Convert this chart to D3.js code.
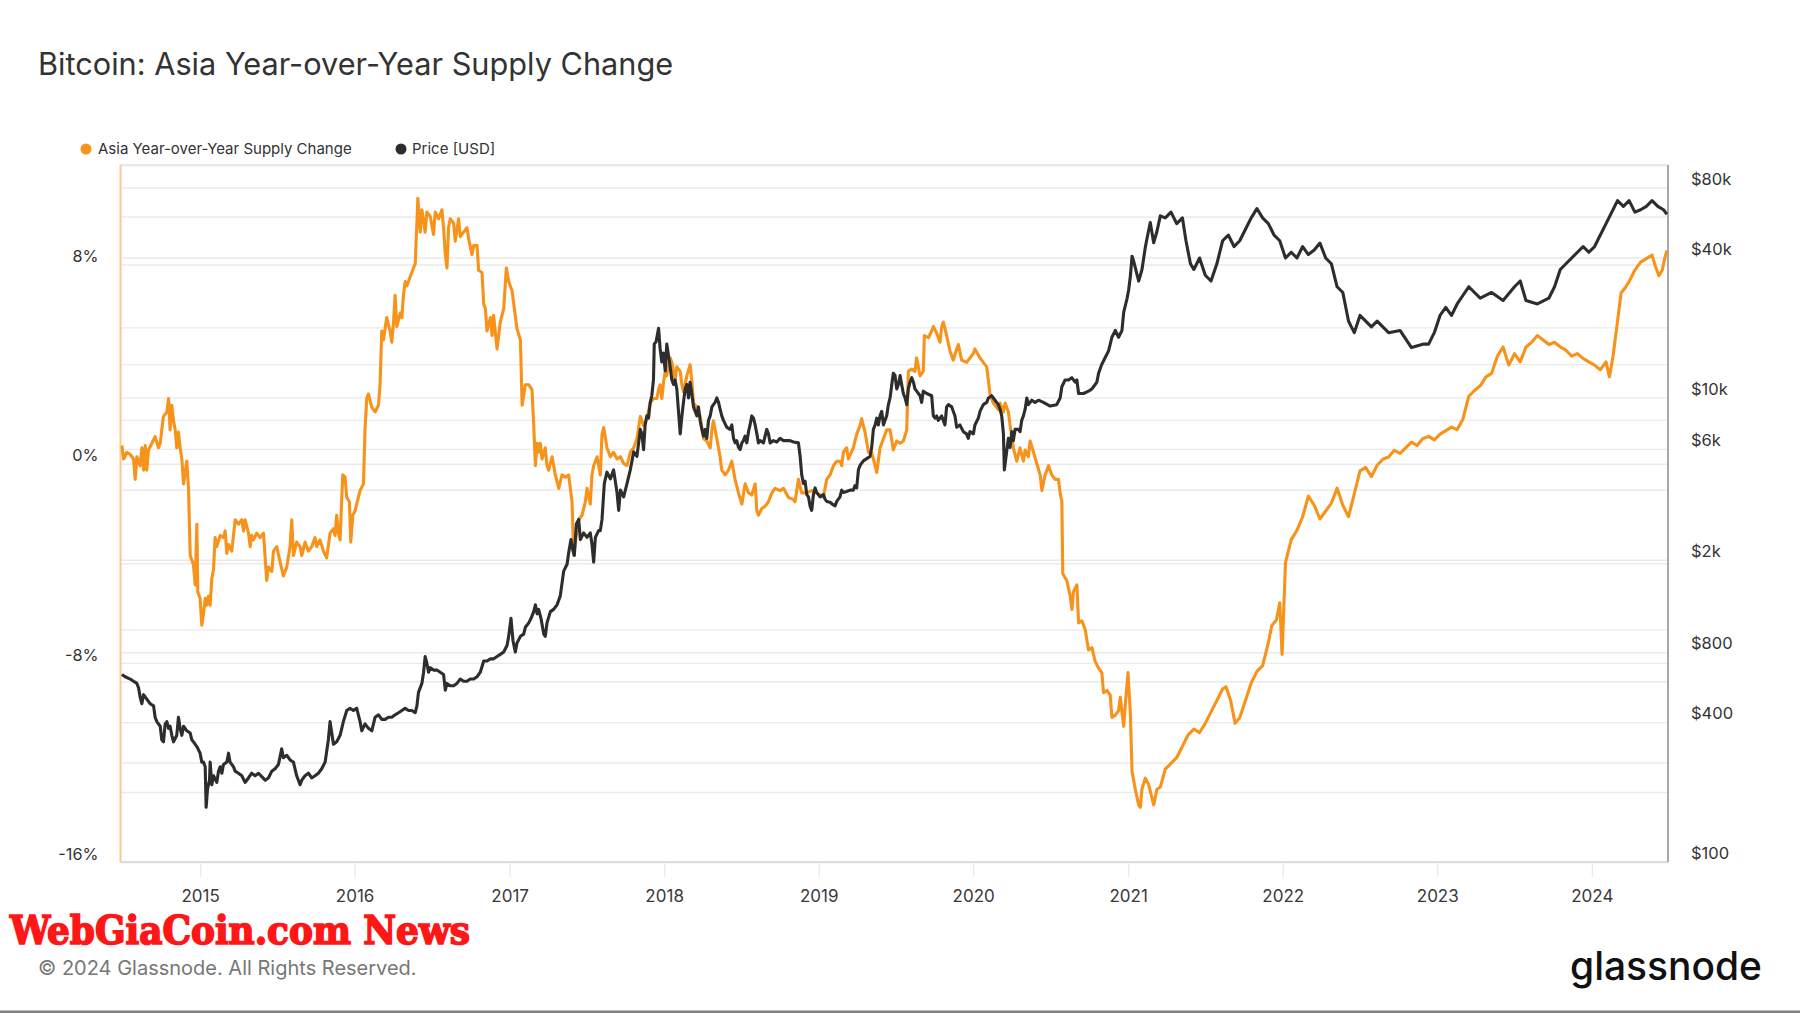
<!DOCTYPE html>
<html>
<head>
<meta charset="utf-8">
<script src="https://cdn.jsdelivr.net/npm/d3@7"></script>
<style>
html,body{margin:0;padding:0;background:#fff;}
svg{display:block;font-family:Inter,"Noto Sans",sans-serif;}
</style>
</head>
<body>
<svg id="chart" width="1800" height="1013"></svg>
<script>
// ---------- DATA (time as decimal year) ----------
const yearTicks = [2015, 2016, 2017, 2018, 2019, 2020, 2021, 2022, 2023, 2024];
const pctTicks = [-16, -8, 0, 8];
const pctGrid = [-16, -12, -8, -4, 0, 4, 8, 12];
const priceTicks = [100, 400, 800, 2000, 6000, 10000, 40000, 80000];
const priceTickLabels = ["$100", "$400", "$800", "$2k", "$6k", "$10k", "$40k", "$80k"];
const priceGrid = [100, 200, 400, 600, 800, 1000, 2000, 4000, 6000, 8000, 10000, 20000, 40000, 60000, 80000];
const seriesNames = ["Asia Year-over-Year Supply Change", "Price [USD]"];

// Asia Year-over-Year Supply Change [%]
const supplyChangePct = [
[2014.494,0.73],[2014.505,0.19],[2014.526,0.46],[2014.548,0.37],[2014.569,0.19],[2014.580,-0.63],[2014.591,0.28],[2014.612,-0.08],[2014.623,0.64],[2014.634,-0.26],[2014.645,0.73],[2014.655,-0.26],[2014.666,0.55],[2014.688,0.82],[2014.709,1.09],[2014.731,0.64],[2014.742,0.82],[2014.752,1.36],[2014.763,1.90],[2014.785,2.08],[2014.796,2.62],[2014.806,1.36],[2014.817,2.35],[2014.828,1.72],[2014.839,1.36],[2014.849,0.64],[2014.860,1.27],[2014.871,0.64],[2014.882,0.19],[2014.893,-0.81],[2014.914,0.10],[2014.925,-0.99],[2014.936,-3.69],[2014.946,-3.87],[2014.957,-4.06],[2014.968,-4.87],[2014.979,-2.43],[2014.985,-5.14],[2015.000,-5.41],[2015.011,-6.49],[2015.022,-6.04],[2015.033,-5.41],[2015.043,-5.68],[2015.054,-5.32],[2015.065,-5.68],[2015.076,-4.60],[2015.087,-4.24],[2015.097,-2.97],[2015.108,-3.33],[2015.130,-2.88],[2015.151,-2.97],[2015.162,-2.70],[2015.173,-3.60],[2015.184,-3.24],[2015.205,-3.51],[2015.227,-2.25],[2015.248,-2.43],[2015.270,-2.25],[2015.281,-2.70],[2015.291,-2.25],[2015.313,-2.79],[2015.324,-3.33],[2015.334,-2.88],[2015.345,-3.06],[2015.367,-2.79],[2015.388,-2.97],[2015.410,-2.79],[2015.431,-4.69],[2015.442,-4.15],[2015.464,-4.33],[2015.475,-3.51],[2015.496,-3.33],[2015.518,-3.96],[2015.539,-4.51],[2015.561,-4.15],[2015.582,-3.33],[2015.593,-2.25],[2015.604,-3.69],[2015.625,-3.15],[2015.647,-3.33],[2015.658,-3.69],[2015.679,-3.15],[2015.701,-3.51],[2015.722,-3.33],[2015.744,-2.97],[2015.755,-3.33],[2015.776,-3.06],[2015.798,-3.51],[2015.819,-3.78],[2015.841,-2.79],[2015.863,-2.61],[2015.873,-2.88],[2015.884,-2.07],[2015.895,-2.79],[2015.906,-3.06],[2015.923,-0.45],[2015.938,-0.54],[2015.949,-1.35],[2015.966,-1.53],[2015.975,-3.15],[2015.988,-2.07],[2016.003,-1.89],[2016.024,-1.35],[2016.035,-1.08],[2016.057,-0.81],[2016.067,1.36],[2016.078,2.62],[2016.089,2.80],[2016.111,2.26],[2016.132,2.08],[2016.154,2.35],[2016.164,3.17],[2016.175,5.33],[2016.186,4.97],[2016.207,5.87],[2016.229,5.33],[2016.240,4.88],[2016.251,5.69],[2016.261,6.77],[2016.272,5.51],[2016.294,6.05],[2016.305,5.87],[2016.315,6.77],[2016.326,7.32],[2016.337,7.14],[2016.358,7.50],[2016.380,7.86],[2016.391,8.04],[2016.408,10.66],[2016.423,9.30],[2016.434,10.20],[2016.445,9.75],[2016.455,9.30],[2016.466,10.11],[2016.488,9.93],[2016.509,9.21],[2016.520,10.11],[2016.542,9.84],[2016.563,10.20],[2016.574,9.48],[2016.585,8.40],[2016.596,7.86],[2016.606,9.48],[2016.617,9.84],[2016.639,9.66],[2016.649,8.94],[2016.671,9.84],[2016.682,9.12],[2016.703,9.30],[2016.725,9.48],[2016.736,9.03],[2016.757,8.40],[2016.768,8.76],[2016.790,8.76],[2016.800,7.77],[2016.822,7.68],[2016.833,6.41],[2016.844,6.23],[2016.854,5.33],[2016.876,5.87],[2016.887,5.15],[2016.897,5.96],[2016.919,4.61],[2016.940,5.69],[2016.962,6.23],[2016.979,7.86],[2016.994,7.32],[2017.016,6.95],[2017.027,6.41],[2017.048,5.42],[2017.070,4.97],[2017.081,2.35],[2017.102,3.17],[2017.124,3.17],[2017.145,2.98],[2017.156,1.54],[2017.167,-0.08],[2017.178,0.82],[2017.188,0.46],[2017.199,0.82],[2017.210,0.19],[2017.231,0.64],[2017.242,-0.08],[2017.253,-0.26],[2017.275,0.28],[2017.296,-0.45],[2017.318,-0.99],[2017.339,-0.45],[2017.361,-0.54],[2017.382,-0.45],[2017.404,-1.53],[2017.415,-3.69],[2017.425,-3.15],[2017.447,-2.25],[2017.469,-2.07],[2017.490,-1.53],[2017.501,-0.99],[2017.522,-1.62],[2017.533,-0.45],[2017.544,-0.08],[2017.566,0.28],[2017.587,-0.45],[2017.598,1.18],[2017.609,1.45],[2017.630,0.64],[2017.652,0.28],[2017.673,0.46],[2017.695,0.19],[2017.717,0.28],[2017.738,0.01],[2017.760,-0.08],[2017.781,0.46],[2017.803,0.64],[2017.824,1.00],[2017.846,1.90],
[2017.867,1.54],[2017.888,1.81],[2017.910,2.44],[2017.931,2.62],[2017.953,2.62],[2017.964,2.98],[2017.974,3.17],[2017.985,2.62],[2017.996,3.26],[2018.007,3.71],[2018.017,3.53],[2018.028,3.98],[2018.039,4.25],[2018.050,4.07],[2018.061,3.71],[2018.071,3.35],[2018.082,3.89],[2018.104,3.71],[2018.115,3.17],[2018.125,2.89],[2018.147,3.53],[2018.168,3.98],[2018.179,3.35],[2018.190,2.44],[2018.212,2.26],[2018.233,1.90],[2018.255,1.00],[2018.276,0.91],[2018.298,0.64],[2018.309,1.36],[2018.319,1.72],[2018.341,1.00],[2018.362,0.28],[2018.373,-0.26],[2018.395,-0.45],[2018.416,-0.26],[2018.438,0.10],[2018.459,-0.63],[2018.481,-1.17],[2018.503,-1.62],[2018.524,-0.81],[2018.546,-1.17],[2018.567,-1.26],[2018.589,-0.81],[2018.600,-1.89],[2018.610,-2.07],[2018.632,-1.80],[2018.653,-1.71],[2018.675,-1.53],[2018.697,-1.17],[2018.718,-0.99],[2018.750,-1.08],[2018.772,-0.99],[2018.804,-1.35],[2018.837,-1.44],[2018.847,-1.53],[2018.869,-0.63],[2018.890,-1.17],[2018.923,-1.17],[2018.955,-1.08],[2018.987,-1.17],[2019.030,-1.35],[2019.052,-0.63],[2019.074,-0.45],[2019.095,-0.08],[2019.117,0.10],[2019.138,0.10],[2019.149,-0.08],[2019.160,0.46],[2019.181,0.64],[2019.192,0.19],[2019.224,0.64],[2019.246,1.18],[2019.268,1.54],[2019.278,1.81],[2019.300,1.27],[2019.322,0.46],[2019.343,0.46],[2019.365,-0.08],[2019.376,-0.35],[2019.397,0.64],[2019.419,1.00],[2019.440,1.36],[2019.462,1.36],[2019.483,0.55],[2019.505,0.91],[2019.527,0.82],[2019.548,0.91],[2019.570,1.36],[2019.580,3.71],[2019.602,3.80],[2019.623,3.71],[2019.634,4.25],[2019.656,3.53],[2019.677,3.71],[2019.684,5.15],[2019.710,5.06],[2019.731,5.33],[2019.742,5.51],[2019.764,5.24],[2019.785,4.88],[2019.796,5.51],[2019.807,5.69],[2019.828,5.15],[2019.850,4.52],[2019.871,4.16],[2019.893,4.61],[2019.904,4.79],[2019.925,4.16],[2019.958,4.07],[2020.001,4.43],[2020.011,4.61],[2020.044,4.25],[2020.065,4.07],[2020.087,3.89],[2020.098,3.35],[2020.108,2.80],[2020.130,2.44],[2020.162,2.17],[2020.173,2.44],[2020.195,2.08],[2020.206,2.44],[2020.227,2.08],[2020.238,1.54],[2020.259,0.64],[2020.281,0.10],[2020.302,0.64],[2020.324,0.10],[2020.335,0.55],[2020.356,0.28],[2020.367,0.91],[2020.389,0.46],[2020.410,0.01],[2020.432,-0.45],[2020.443,-1.08],[2020.464,-0.45],[2020.486,-0.08],[2020.507,-0.45],[2020.529,-0.63],[2020.550,-0.63],[2020.561,-1.17],[2020.572,-1.53],[2020.578,-4.42],[2020.604,-4.69],[2020.626,-5.32],[2020.637,-5.86],[2020.647,-5.14],[2020.669,-4.87],[2020.680,-6.40],[2020.701,-6.31],[2020.723,-6.67],[2020.744,-7.48],[2020.766,-7.39],[2020.787,-7.94],[2020.809,-8.21],[2020.830,-8.39],[2020.841,-9.20],[2020.863,-9.11],[2020.884,-9.29],[2020.895,-10.19],[2020.917,-10.10],[2020.938,-9.92],[2020.949,-9.38],[2020.971,-10.55],[2020.982,-9.65],[2020.999,-8.39],[2021.014,-10.01],[2021.025,-12.36],[2021.046,-13.08],[2021.068,-13.71],[2021.079,-13.80],[2021.089,-13.08],[2021.111,-12.63],[2021.133,-12.90],[2021.165,-13.71],[2021.186,-13.08],[2021.208,-12.99],
[2021.240,-12.27],[2021.277,-12.04],[2021.314,-11.81],[2021.351,-11.35],[2021.388,-10.89],[2021.425,-10.66],[2021.462,-10.80],[2021.499,-10.43],[2021.536,-9.97],[2021.574,-9.51],[2021.611,-9.05],[2021.633,-8.96],[2021.663,-9.51],[2021.692,-10.43],[2021.722,-10.20],[2021.759,-9.51],[2021.796,-8.81],[2021.833,-8.34],[2021.870,-8.11],[2021.907,-7.19],[2021.929,-6.51],[2021.959,-6.28],[2021.981,-5.59],[2021.996,-7.66],[2022.018,-3.97],[2022.055,-3.05],[2022.092,-2.68],[2022.129,-2.13],[2022.166,-1.30],[2022.204,-1.67],[2022.241,-2.22],[2022.278,-1.90],[2022.315,-1.58],[2022.352,-0.98],[2022.389,-1.67],[2022.426,-2.13],[2022.463,-1.21],[2022.500,-0.29],[2022.537,-0.15],[2022.574,-0.52],[2022.611,-0.06],[2022.648,0.18],[2022.685,0.27],[2022.722,0.54],[2022.759,0.41],[2022.796,0.64],[2022.833,0.87],[2022.870,0.73],[2022.907,1.01],[2022.944,1.10],[2022.981,0.96],[2023.018,1.19],[2023.055,1.33],[2023.092,1.47],[2023.129,1.37],[2023.166,1.79],[2023.204,2.71],[2023.241,2.94],[2023.278,3.13],[2023.315,3.49],[2023.352,3.63],[2023.389,4.32],[2023.426,4.69],[2023.463,3.96],[2023.500,4.42],[2023.537,4.09],[2023.574,4.69],[2023.611,4.88],[2023.648,5.15],[2023.685,4.97],[2023.722,4.79],[2023.759,4.88],[2023.796,4.69],[2023.833,4.56],[2023.870,4.32],[2023.907,4.42],[2023.944,4.23],[2023.981,4.09],[2024.018,3.96],[2024.055,3.77],[2024.092,4.09],[2024.114,3.49],[2024.137,4.32],[2024.166,5.72],[2024.189,6.86],[2024.218,7.09],[2024.241,7.32],[2024.278,7.78],[2024.315,8.10],[2024.352,8.24],[2024.389,8.38],[2024.411,7.92],[2024.433,7.55],[2024.455,7.78],[2024.470,8.24],[2024.485,8.57]
];

// Price [USD]
const priceUSD = [
[2014.494,641],[2014.515,627],[2014.548,613],[2014.569,600],[2014.591,587],[2014.602,561],[2014.612,513],[2014.623,480],[2014.634,525],[2014.655,502],[2014.677,480],[2014.699,470],[2014.709,420],[2014.720,402],[2014.742,384],[2014.752,336],[2014.763,329],[2014.774,393],[2014.785,402],[2014.796,376],[2014.806,384],[2014.817,351],[2014.828,329],[2014.849,351],[2014.860,420],[2014.871,376],[2014.882,351],[2014.893,384],[2014.914,367],[2014.936,359],[2014.946,336],[2014.957,329],[2014.979,314],[2015.000,294],[2015.011,269],[2015.022,269],[2015.033,257],[2015.039,172],[2015.048,206],[2015.061,225],[2015.065,269],[2015.076,215],[2015.087,235],[2015.108,220],[2015.119,246],[2015.130,257],[2015.141,241],[2015.151,263],[2015.173,269],[2015.184,294],[2015.194,269],[2015.216,257],[2015.227,246],[2015.248,241],[2015.270,235],[2015.291,220],[2015.313,230],[2015.334,241],[2015.356,235],[2015.378,241],[2015.399,233],[2015.421,225],[2015.442,230],[2015.464,246],[2015.485,252],[2015.507,263],[2015.528,307],[2015.539,281],[2015.561,288],[2015.582,275],[2015.604,269],[2015.625,235],[2015.647,215],[2015.658,225],[2015.679,235],[2015.701,241],[2015.722,230],[2015.744,235],[2015.765,241],[2015.787,252],[2015.809,269],[2015.830,336],[2015.841,402],[2015.852,359],[2015.863,321],[2015.884,329],[2015.906,351],[2015.927,402],[2015.949,449],[2015.970,459],[2015.992,449],[2016.013,459],[2016.035,402],[2016.046,367],[2016.067,393],[2016.089,376],[2016.111,367],[2016.132,420],[2016.154,430],[2016.175,411],[2016.197,411],[2016.218,420],[2016.240,420],[2016.261,430],[2016.283,439],[2016.305,449],[2016.326,459],[2016.348,449],[2016.369,449],[2016.391,439],[2016.402,470],[2016.412,537],[2016.434,587],[2016.445,656],[2016.455,766],[2016.466,717],[2016.477,656],[2016.488,686],[2016.509,670],[2016.531,670],[2016.552,656],[2016.574,641],[2016.585,549],[2016.596,587],[2016.617,574],[2016.639,574],[2016.660,587],[2016.682,613],[2016.703,600],[2016.725,600],[2016.746,613],[2016.768,613],[2016.790,627],[2016.811,656],[2016.833,733],[2016.854,733],[2016.876,749],[2016.897,749],[2016.919,766],[2016.940,783],[2016.962,801],[2016.984,857],[2016.994,936],[2017.009,1119],[2017.022,896],[2017.037,801],[2017.048,876],[2017.070,936],[2017.091,957],[2017.102,1024],[2017.124,1070],[2017.139,1119],[2017.156,1196],[2017.167,1279],[2017.178,1170],[2017.188,1223],[2017.203,1119],[2017.221,957],[2017.231,936],[2017.242,1070],[2017.264,1196],[2017.285,1223],[2017.307,1279],[2017.328,1398],[2017.350,1787],[2017.372,1911],[2017.382,2136],[2017.397,2441],[2017.410,2184],[2017.419,2089],[2017.432,2853],[2017.447,2983],[2017.458,2441],[2017.479,2610],[2017.501,2496],[2017.522,2610],[2017.533,2335],[2017.544,1954],[2017.555,2496],[2017.576,2669],[2017.587,2669],[2017.598,2983],[2017.613,4262],[2017.630,4764],[2017.652,4456],[2017.673,4872],[2017.695,3898],[2017.706,3262],[2017.717,3986],[2017.738,3728],[2017.760,4262],[2017.781,4872],[2017.803,5824],[2017.824,5568],[2017.846,7277],
[2017.856,6961],[2017.867,5955],[2017.877,7607],[2017.888,8318],[2017.899,8135],[2017.910,9510],[2017.920,10160],[2017.931,11880],[2017.936,16970],[2017.948,17350],[2017.964,19830],[2017.974,16230],[2017.985,14200],[2017.996,15520],[2018.007,12990],[2018.017,16970],[2018.028,15180],[2018.039,13580],[2018.050,11880],[2018.061,11360],[2018.071,11880],[2018.082,10870],[2018.093,8700],[2018.104,6961],[2018.115,8318],[2018.125,9510],[2018.136,10870],[2018.147,11360],[2018.158,9940],[2018.168,11620],[2018.179,10390],[2018.190,9095],[2018.201,8700],[2018.212,8318],[2018.222,9095],[2018.233,7955],[2018.244,7277],[2018.255,6808],[2018.265,7277],[2018.276,6658],[2018.287,7955],[2018.298,8318],[2018.309,9095],[2018.319,9300],[2018.330,9510],[2018.341,9940],[2018.352,9510],[2018.362,8895],[2018.373,8318],[2018.384,7955],[2018.405,7440],[2018.427,7277],[2018.438,7607],[2018.449,6658],[2018.459,6368],[2018.470,6511],[2018.481,6089],[2018.492,5955],[2018.503,6368],[2018.513,6511],[2018.524,6808],[2018.535,6368],[2018.546,7116],[2018.556,7607],[2018.567,8318],[2018.578,8135],[2018.589,7607],[2018.600,6961],[2018.610,6368],[2018.621,6511],[2018.643,6368],[2018.653,6808],[2018.664,7277],[2018.675,6961],[2018.686,6368],[2018.707,6511],[2018.729,6425],[2018.750,6658],[2018.772,6511],[2018.793,6511],[2018.815,6511],[2018.837,6425],[2018.869,6368],[2018.880,5568],[2018.890,4659],[2018.901,4262],[2018.912,4358],[2018.923,3813],[2018.934,3728],[2018.944,3411],[2018.955,3262],[2018.966,3813],[2018.977,4076],[2018.987,3898],[2019.009,3728],[2019.031,3813],[2019.041,3647],[2019.052,3566],[2019.074,3535],[2019.095,3442],[2019.106,3411],[2019.117,3566],[2019.138,3728],[2019.149,3986],[2019.160,3898],[2019.181,3933],[2019.203,3986],[2019.224,3986],[2019.235,4168],[2019.246,4076],[2019.257,4872],[2019.268,5093],[2019.289,5326],[2019.311,5446],[2019.332,5568],[2019.343,6089],[2019.354,7277],[2019.365,7607],[2019.376,8135],[2019.386,7607],[2019.397,8318],[2019.408,8700],[2019.419,7607],[2019.429,7955],[2019.440,8318],[2019.451,9300],[2019.462,9940],[2019.473,11360],[2019.483,12700],[2019.494,12420],[2019.505,10870],[2019.516,11360],[2019.527,12420],[2019.537,11360],[2019.548,10390],[2019.559,9940],[2019.570,9300],[2019.580,10870],[2019.591,11620],[2019.602,12150],[2019.613,11620],[2019.623,10870],[2019.634,10630],[2019.656,10160],[2019.666,9510],[2019.677,10630],[2019.699,10390],[2019.731,10160],[2019.742,8318],[2019.753,8135],[2019.764,8318],[2019.774,7955],[2019.796,8318],[2019.817,7607],[2019.828,9095],[2019.839,9300],[2019.861,9095],[2019.882,8318],[2019.893,7440],[2019.914,7607],[2019.936,7116],[2019.957,6961],[2019.968,6658],[2019.979,7116],[2020.001,6961],[2020.011,7607],[2020.033,8135],[2020.044,8700],[2020.065,9300],[2020.087,9510],[2020.098,9940],[2020.119,10160],[2020.141,9720],[2020.162,9300],[2020.173,8895],[2020.184,8318],[2020.195,6961],[2020.201,4872],[2020.212,5568],[2020.227,6658],[2020.238,6089],[2020.249,7116],[2020.259,6511],[2020.270,7277],[2020.292,7277],[2020.302,7116],[2020.313,7955],[2020.324,8318],[2020.335,8895],[2020.346,9940],[2020.356,9300],[2020.378,9720],[2020.399,9510],[2020.421,9720],[2020.453,9510],[2020.496,9175],[2020.539,9300],[2020.561,9940],[2020.572,11110],[2020.593,11880],[2020.615,11880],[2020.636,12150],[2020.658,11620],[2020.669,11880],[2020.680,10390],[2020.712,10390],[2020.744,10630],[2020.766,10870],[2020.787,11360],[2020.798,11620],[2020.809,12700],[2020.830,13890],[2020.852,14840],[2020.874,15870],[2020.895,18140],[2020.917,19400],[2020.938,18140],[2020.960,19400],[2020.971,23190],[2020.992,26500],[2021.003,28970],[2021.014,33110],[2021.025,40470],[2021.035,38710],[2021.057,33850],[2021.068,31670],[2021.089,35400],[2021.111,44240],[2021.122,48370],[2021.143,56550],[2021.165,46260],[2021.186,51720],[2021.208,60430],
[2021.240,59230],[2021.277,62710],[2021.314,55950],[2021.351,59230],[2021.374,47190],[2021.403,37580],[2021.425,35500],[2021.462,39780],[2021.499,33530],[2021.536,31670],[2021.574,37580],[2021.611,47190],[2021.648,49940],[2021.685,44570],[2021.722,47190],[2021.759,52870],[2021.796,59230],[2021.833,64900],[2021.870,59230],[2021.907,55950],[2021.944,49940],[2021.981,47190],[2022.018,39780],[2022.055,42110],[2022.092,39780],[2022.129,44570],[2022.166,41160],[2022.204,43080],[2022.241,46120],[2022.278,39780],[2022.315,37580],[2022.352,29920],[2022.389,28270],[2022.426,21270],[2022.463,18980],[2022.500,22510],[2022.537,21270],[2022.574,20090],[2022.611,21270],[2022.685,18980],[2022.759,19400],[2022.833,16370],[2022.907,16940],[2022.944,16940],[2022.981,18980],[2023.018,22510],[2023.055,24380],[2023.092,22510],[2023.129,25230],[2023.204,29920],[2023.241,28270],[2023.278,26710],[2023.352,28270],[2023.426,26110],[2023.500,29920],[2023.537,31670],[2023.574,26110],[2023.648,25230],[2023.722,26710],[2023.759,29920],[2023.796,35500],[2023.833,37580],[2023.907,42110],[2023.944,44570],[2023.981,42110],[2024.018,44570],[2024.055,49940],[2024.092,55950],[2024.129,62710],[2024.166,70270],[2024.204,66390],[2024.241,70270],[2024.278,62710],[2024.315,64150],[2024.352,66390],[2024.389,70270],[2024.426,66390],[2024.463,64150],[2024.485,61300]
];

// ---------- LAYOUT ----------
const W = 1800, H = 1013;
const L = 120.5, R = 1668, T = 165, B = 862;
const COLOR_ORANGE = "#f7931a", COLOR_DARK = "#2d2d2d";

function decYear(t) {
  const y = Math.floor(t);
  const s = Date.UTC(y, 0, 1), e = Date.UTC(y + 1, 0, 1);
  return new Date(s + (t - y) * (e - s));
}

const svg = d3.select("#chart");
svg.append("rect").attr("width", W).attr("height", H).attr("fill", "#fff");

const x = d3.scaleUtc().domain([new Date(Date.UTC(2014, 5, 27)), new Date(Date.UTC(2024, 5, 29))]).range([L, R]);
const yL = d3.scaleLinear().domain([-16, 12]).range([B, T]);
const yR = d3.scaleLog().domain([100, 100000]).range([B, T]);

// gridlines
const gL = svg.append("g").attr("transform", `translate(${L},0)`)
  .call(d3.axisLeft(yL).tickValues(pctGrid).tickSize(-(R - L)).tickFormat(""));
gL.select(".domain").remove();
gL.selectAll("line").attr("stroke", "#eaeaea").attr("stroke-width", 1.4);

const gR = svg.append("g").attr("transform", `translate(${R},0)`)
  .call(d3.axisRight(yR).tickValues(priceGrid).tickSize(-(R - L)).tickFormat(""));
gR.select(".domain").remove();
gR.selectAll("line").attr("stroke", "#eaeaea").attr("stroke-width", 1.4);

// frame
svg.append("line").attr("x1", L).attr("x2", R).attr("y1", T).attr("y2", T).attr("stroke", "#e3e3e3").attr("stroke-width", 1.5);
svg.append("line").attr("x1", L).attr("x2", R).attr("y1", B).attr("y2", B).attr("stroke", "#dcdcdc").attr("stroke-width", 2);

// x axis
const gx = svg.append("g").attr("transform", `translate(0,${B})`)
  .call(d3.axisBottom(x)
    .tickValues(yearTicks.map(yv => new Date(Date.UTC(yv, 0, 1))))
    .tickSize(15).tickPadding(13)
    .tickFormat(d3.utcFormat("%Y")));
gx.select(".domain").remove();
gx.selectAll("line").attr("stroke", "#e8e8e8").attr("stroke-width", 1.2);
gx.selectAll("text").attr("font-size", 17).attr("fill", "#3a3a3a").attr("font-family", "Inter");

// left axis labels
const gyl = svg.append("g").attr("transform", `translate(${L},0)`)
  .call(d3.axisLeft(yL).tickValues(pctTicks).tickSize(0).tickPadding(22).tickFormat(d => d + "%"));
gyl.select(".domain").remove();
gyl.selectAll("text").attr("font-size", 16.3).attr("fill", "#333").attr("dy", -2.8).attr("font-family", "Inter");

// right axis labels
const gyr = svg.append("g").attr("transform", `translate(${R},0)`)
  .call(d3.axisRight(yR).tickValues(priceTicks).tickSize(0).tickPadding(23)
    .tickFormat(d => priceTickLabels[priceTicks.indexOf(d)]));
gyr.select(".domain").remove();
gyr.selectAll("text").attr("font-size", 16.5).attr("fill", "#333").attr("dy", -3.2).attr("font-family", "Inter");

// side axis lines
svg.append("line").attr("x1", L).attr("x2", L).attr("y1", T).attr("y2", B).attr("stroke", "#fcc98a").attr("stroke-width", 2);
svg.append("line").attr("x1", R).attr("x2", R).attr("y1", T).attr("y2", B).attr("stroke", "#a8a8a8").attr("stroke-width", 2);

// clip
svg.append("clipPath").attr("id", "plotclip").append("rect")
  .attr("x", L).attr("y", T - 2).attr("width", R - L).attr("height", B - T + 4);

const plot = svg.append("g").attr("clip-path", "url(#plotclip)");

const lineSupply = d3.line().x(d => x(decYear(d[0]))).y(d => yL(d[1]));
const linePrice = d3.line().x(d => x(decYear(d[0]))).y(d => yR(d[1]));

plot.append("path").datum(supplyChangePct).attr("d", lineSupply)
  .attr("fill", "none").attr("stroke", COLOR_ORANGE).attr("stroke-width", 3.1).attr("stroke-linejoin", "round");
plot.append("path").datum(priceUSD).attr("d", linePrice)
  .attr("fill", "none").attr("stroke", COLOR_DARK).attr("stroke-width", 3.1).attr("stroke-linejoin", "round");

// title
svg.append("text").attr("x", 38).attr("y", 75).attr("font-size", 30.7).attr("fill", "#333")
  .attr("font-family", "Inter").text("Bitcoin: Asia Year-over-Year Supply Change");

// legend
const legend = svg.append("g");
const legendItems = [
  { name: seriesNames[0], color: COLOR_ORANGE, cx: 86, tx: 98 },
  { name: seriesNames[1], color: COLOR_DARK, cx: 401, tx: 412 }
];
legendItems.forEach(it => {
  legend.append("circle").attr("cx", it.cx).attr("cy", 149).attr("r", 5.5).attr("fill", it.color);
  legend.append("text").attr("x", it.tx).attr("y", 149).attr("dy", "0.35em")
    .attr("font-size", 15).attr("fill", "#333").attr("font-family", "Inter").text(it.name);
});

// watermark
svg.append("text").attr("x", 10).attr("y", 944)
  .attr("font-family", "'DejaVu Serif Condensed','DejaVu Serif',serif").attr("font-weight", "bold")
  .attr("font-size", 40).attr("fill", "#ff1616").attr("stroke", "#ff1616").attr("stroke-width", 1.6)
  .attr("textLength", 460).attr("lengthAdjust", "spacingAndGlyphs")
  .text("WebGiaCoin.com News");

// copyright
svg.append("text").attr("x", 38).attr("y", 975).attr("font-size", 20).attr("fill", "#777")
  .attr("font-family", "Inter").text("© 2024 Glassnode. All Rights Reserved.");

// logo
svg.append("text").attr("x", 1570).attr("y", 980).attr("font-size", 39).attr("font-weight", 500)
  .attr("fill", "#111").attr("font-family", "Inter")
  .attr("textLength", 192).attr("lengthAdjust", "spacingAndGlyphs").text("glassnode");

// page bottom rule
svg.append("rect").attr("x", 0).attr("y", 1010.5).attr("width", W).attr("height", 2.5).attr("fill", "#808080");
</script>
</body>
</html>
